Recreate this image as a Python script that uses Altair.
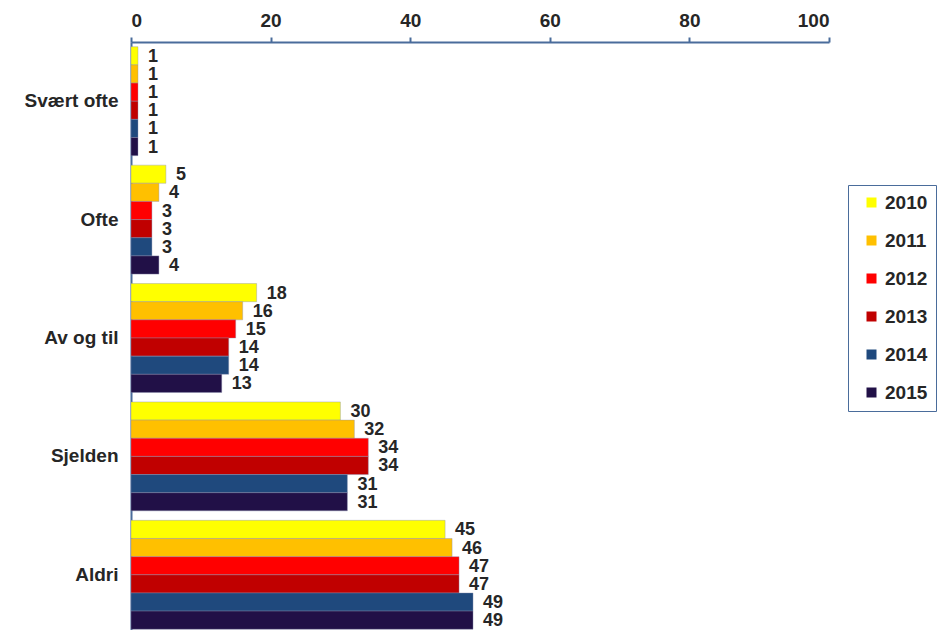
import altair as alt
import pandas as pd

categories = ["Svært ofte", "Ofte", "Av og til", "Sjelden", "Aldri"]
years = ["2010", "2011", "2012", "2013", "2014", "2015"]
values = {
    "2010": [1, 5, 18, 30, 45],
    "2011": [1, 4, 16, 32, 46],
    "2012": [1, 3, 15, 34, 47],
    "2013": [1, 3, 14, 34, 47],
    "2014": [1, 3, 14, 31, 49],
    "2015": [1, 4, 13, 31, 49],
}
colors = ["#FFFF00", "#FFC000", "#FF0000", "#C00000", "#1F497D", "#211047"]

rows = []
for y in years:
    for c, v in zip(categories, values[y]):
        rows.append({"cat": c, "year": y, "value": v})
df = pd.DataFrame(rows)

FONT = "Liberation Sans"
FS = 19

y_enc = alt.Y("cat:N", sort=categories, title=None,
              scale=alt.Scale(paddingInner=0.08, paddingOuter=0.04),
              axis=alt.Axis(ticks=False, labelPadding=13, labelFontSize=FS,
                            labelFontWeight="bold", labelColor="#262626",
                            labelFont=FONT, domainColor="#4A6C9B", domainWidth=2))
yoff = alt.YOffset("year:N", sort=years, scale=alt.Scale(paddingInner=0, paddingOuter=0))
x_enc = alt.X("value:Q", title=None,
              scale=alt.Scale(domain=[0, 100], nice=False),
              axis=alt.Axis(orient="top", values=[0, 20, 40, 60, 80, 100], grid=False,
                            tickSize=5, tickColor="#4A6C9B", tickWidth=2,
                            domainColor="#4A6C9B", domainWidth=2,
                            labelFontSize=FS, labelFontWeight="bold",
                            labelColor="#262626", labelFont=FONT, labelPadding=7))

bars = alt.Chart(df).mark_bar(stroke="#8a8fb0", strokeWidth=0.4).encode(
    x=x_enc, y=y_enc, yOffset=yoff,
    color=alt.Color("year:N", sort=years,
                    scale=alt.Scale(domain=years, range=colors),
                    legend=alt.Legend(title=None, orient="none", legendX=717, legendY=143,
                                      strokeColor="#4A6C9B", padding=8,
                                      symbolType="square", symbolSize=100,
                                      symbolStrokeWidth=0, symbolOffset=6,
                                      labelFontSize=FS, labelFontWeight="bold",
                                      labelColor="#262626", labelFont=FONT,
                                      rowPadding=18, labelOffset=4)),
)

labels = alt.Chart(df).mark_text(align="left", baseline="middle", dx=10, dy=1,
                                 fontSize=18, fontWeight="bold", color="#262626",
                                 font=FONT).encode(
    x="value:Q", y=alt.Y("cat:N", sort=categories), yOffset=yoff,
    text="value:Q",
)

chart = (bars + labels).properties(
    width=698, height=592,
    autosize=alt.AutoSizeParams(type="none"),
    padding={"left": 123, "top": 34, "right": 109, "bottom": 0},
).configure_view(stroke=None)

chart.save("out.html", embed_options={"renderer": "svg", "actions": False})
